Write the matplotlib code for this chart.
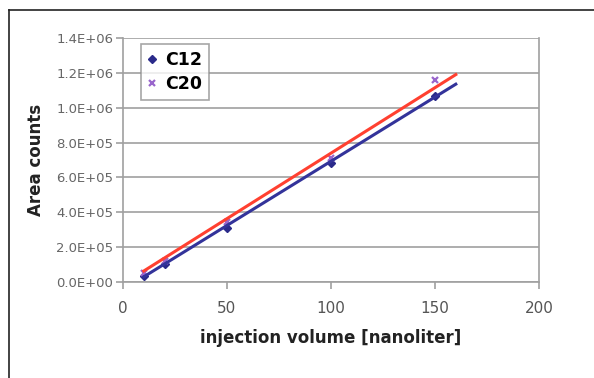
import numpy as np
import matplotlib
matplotlib.use("Agg")
import matplotlib.pyplot as plt
from matplotlib.lines import Line2D

volume = [10, 20, 50, 100, 150]
c12 = [3.5e4, 1.05e5, 3.1e5, 6.85e5, 1.07e6]
c20 = [5.0e4, 1.2e5, 3.45e5, 7.1e5, 1.16e6]
# linear trendlines (slope, intercept)
trend_c12 = (7367.0, -4.37e4)
trend_c20 = (7513.0, -1.2e4)
trend_range = [10, 160]
x_ticks = [0, 50, 100, 150, 200]
y_ticks = [0, 2e5, 4e5, 6e5, 8e5, 1.0e6, 1.2e6, 1.4e6]
y_labels = ["0.0E+00", "2.0E+05", "4.0E+05", "6.0E+05", "8.0E+05",
            "1.0E+06", "1.2E+06", "1.4E+06"]

fig = plt.figure(figsize=(5.94, 3.78), dpi=100)
fig.patch.set_facecolor("white")
ax = fig.add_axes([123/594, 1-282/378, (539-123)/594, (282-38)/378])

grid_c = "#a0a0a0"
ax.set_xlim(0, 200)
ax.set_ylim(0, 1.4e6)
ax.set_xticks(x_ticks)
ax.set_yticks(y_ticks)
ax.set_yticklabels(y_labels)
ax.yaxis.grid(True, color=grid_c, linewidth=1.2)
ax.set_axisbelow(True)
for s in ["left", "bottom", "right"]:
    ax.spines[s].set_color(grid_c)
    ax.spines[s].set_linewidth(1.2)
ax.spines["top"].set_visible(False)
ax.tick_params(axis="both", direction="out", color=grid_c, length=5, width=1.2)
ax.tick_params(axis="y", labelsize=9.5, labelcolor="#666666", pad=2)
ax.tick_params(axis="x", labelsize=11, labelcolor="#555555", pad=9)

blue = "#33339a"
red = "#ff4030"

xs = np.array(trend_range, dtype=float)
ax.plot(volume, c12, linestyle="none", marker="D", markersize=4, color="#2a2a8a",
        label="C12", zorder=3)
ax.plot(volume, c20, linestyle="none", marker="x", markersize=5, markeredgewidth=1.6,
        color="#9966cc", label="C20", zorder=3)
ax.plot(xs, trend_c12[0]*xs + trend_c12[1], color=blue, linewidth=2.2, zorder=4)
ax.plot(xs, trend_c20[0]*xs + trend_c20[1], color=red, linewidth=2.2, zorder=4)

leg = ax.legend(loc="upper left", bbox_to_anchor=((141-123)/416, 1-(44-38)/244),
                frameon=True, fancybox=False, edgecolor="#909090",
                prop={"weight": "bold", "size": 12.5}, handlelength=0.5,
                handletextpad=0.5, borderpad=0.4, labelspacing=0.35,
                borderaxespad=0)
leg.get_frame().set_linewidth(1.2)

ax.set_xlabel("injection volume [nanoliter]", fontsize=12, fontweight="bold",
              color="#222222", labelpad=9)
ax.set_ylabel("Area counts", fontsize=12, fontweight="bold", color="#222222",
              labelpad=8)

fig.add_artist(Line2D([9/594, 9/594], [0, 1-10/378], transform=fig.transFigure,
                      color="#222222", linewidth=1.2))
fig.add_artist(Line2D([9/594, 1], [1-10/378, 1-10/378], transform=fig.transFigure,
                      color="#222222", linewidth=1.2))

fig.savefig("out.png", dpi=100, facecolor="white")
